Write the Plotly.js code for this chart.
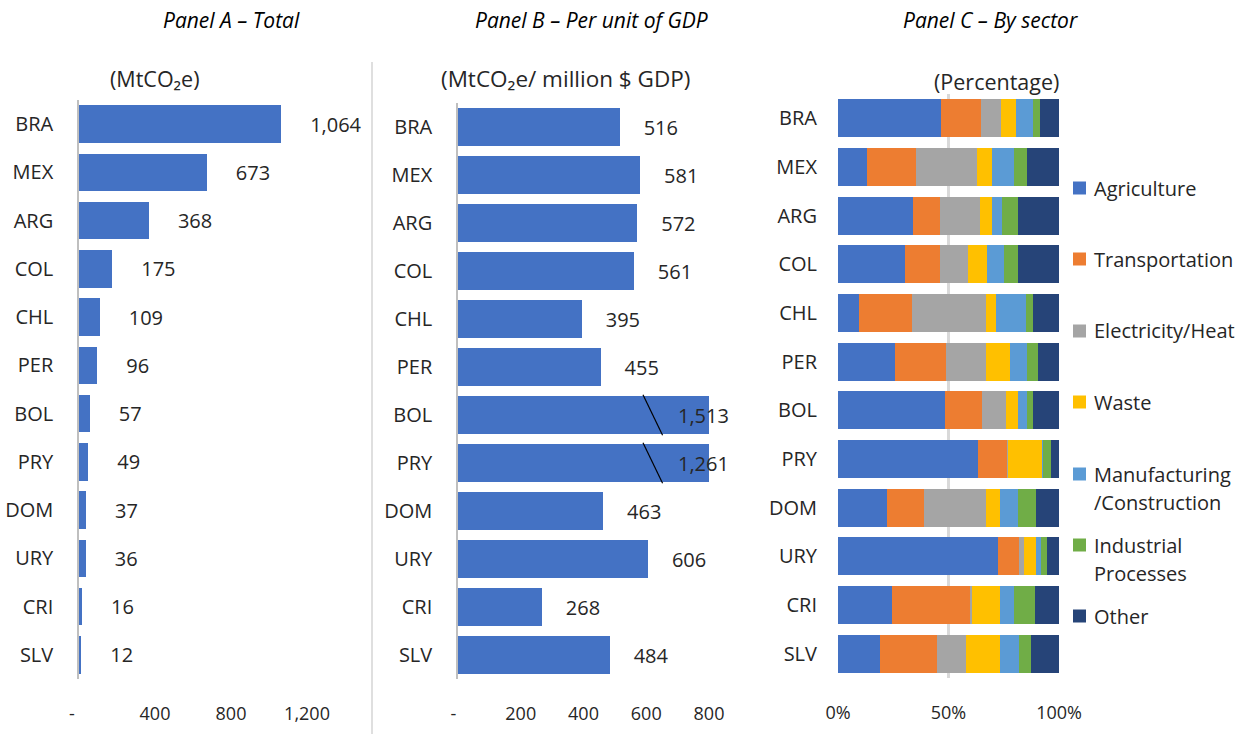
<!DOCTYPE html>
<html>
<head>
<meta charset="utf-8">
<script src="https://cdn.plot.ly/plotly-3.0.1.min.js"></script>
<style>html,body{margin:0;padding:0;background:#fff;}#chart{width:1257px;height:734px;}</style>
</head>
<body>
<div id="chart"></div>
<script>
// ---------- DATA ----------
const countries = ['BRA','MEX','ARG','COL','CHL','PER','BOL','PRY','DOM','URY','CRI','SLV'];
const totalEmissions = [1064, 673, 368, 175, 109, 96, 57, 49, 37, 36, 16, 12];           // MtCO2e
const intensity = [516, 581, 572, 561, 395, 455, 1513, 1261, 463, 606, 268, 484];        // MtCO2e / million $ GDP
const intensityAxisMax = 800;

const sectorNames = ['Agriculture','Transportation','Electricity/Heat','Waste','Manufacturing<br>/Construction','Industrial<br>Processes','Other'];
const sectorColors = ['#4472C4','#ED7D31','#A5A5A5','#FFC000','#5B9BD5','#70AD47','#264478'];
const agriculture    = [46.6, 13.0, 33.8, 30.3,  9.5, 25.6, 48.4, 63.5, 22.3, 72.7, 24.6, 18.9];
const transportation = [17.9, 22.2, 12.4, 15.8, 23.8, 23.4, 16.9, 13.3, 16.7,  9.4, 35.4, 26.1];
const electricity    = [ 9.4, 27.6, 17.9, 12.7, 33.6, 17.9, 10.9,  0.2, 27.9,  2.3,  0.6, 12.7];
const waste          = [ 6.5,  7.1,  5.7,  8.6,  4.7, 11.0,  5.3, 15.7,  6.3,  5.3, 12.7, 15.7];
const manufacturing  = [ 8.0,  9.8,  4.5,  7.7, 13.3,  7.5,  4.1,  0.3,  8.1,  2.3,  6.3,  8.7];
const industrial     = [ 2.9,  5.9,  7.1,  6.3,  3.5,  5.1,  2.9,  3.8,  8.1,  2.9,  9.4,  5.1];
const other          = [ 8.7, 14.5, 18.6, 18.6, 11.6,  9.4, 11.6,  3.5, 10.4,  5.3, 11.0, 12.8];
const sectorShares = [agriculture, transportation, electricity, waste, manufacturing, industrial, other];

const ticksA = [0, 400, 800, 1200];
const tickTextA = ['-\u00a0\u00a0\u00a0', '400', '800', '1,200'];
const ticksB = [0, 200, 400, 600, 800];
const tickTextB = ['-\u00a0\u00a0', '200', '400', '600', '800'];
const ticksC = [0, 50, 100];
const tickTextC = ['0%', '50%', '100%'];

// ---------- HELPERS ----------
const FONT = '"Open Sans", sans-serif';
const TXT = '#262626';
const fmt = v => v.toLocaleString('en-US');
const pad = n => '\u00a0'.repeat(n);
const W = 1257, H = 734;
const px = x => x / W;
const py = y => 1 - y / H;

const traces = [];
// Panel A
traces.push({
  type: 'bar', orientation: 'h', x: totalEmissions, y: countries,
  xaxis: 'x', yaxis: 'y', marker: {color: '#4472C4'},
  text: totalEmissions.map(v => pad(5) + fmt(v)), textposition: 'outside',
  textfont: {family: FONT, size: 20, color: TXT}, cliponaxis: false,
  showlegend: false, hoverinfo: 'x+y'
});
// Panel B: bars within the axis get outside labels, bars beyond the axis are capped
const capped = intensity.map(v => v > intensityAxisMax);
const inB = countries.map((c, i) => i).filter(i => !capped[i]);
const capB = countries.map((c, i) => i).filter(i => capped[i]);
traces.push({
  type: 'bar', orientation: 'h', x: inB.map(i => intensity[i]), y: inB.map(i => countries[i]),
  xaxis: 'x2', yaxis: 'y2', marker: {color: '#4472C4'},
  text: inB.map(i => pad(4) + fmt(intensity[i])), textposition: 'outside',
  textfont: {family: FONT, size: 20, color: TXT}, cliponaxis: false,
  showlegend: false, hovertemplate: '%{y}: %{x}<extra></extra>'
});
traces.push({
  type: 'bar', orientation: 'h', x: capB.map(i => intensityAxisMax), y: capB.map(i => countries[i]),
  xaxis: 'x2', yaxis: 'y2', marker: {color: '#4472C4'},
  showlegend: false, customdata: capB.map(i => intensity[i]), hovertemplate: '%{y}: %{customdata}<extra></extra>'
});
// Panel C (normalised to 100%)
const totals = countries.map((c, i) => sectorShares.reduce((s, arr) => s + arr[i], 0));
sectorShares.forEach((arr, k) => {
  traces.push({
    type: 'bar', orientation: 'h', x: arr.map((v, i) => v / totals[i] * 100), y: countries,
    xaxis: 'x3', yaxis: 'y3', name: sectorNames[k], showlegend: false,
    marker: {color: sectorColors[k], line: {width: 0}},
    hovertemplate: '%{y}: %{x:.1f}%<extra>' + sectorNames[k].replace('<br>', ' ') + '</extra>'
  });
});

const axisFont = {family: FONT, size: 20, color: TXT};
const yBase = {
  type: 'category', autorange: 'reversed', showgrid: false, zeroline: false,
  ticks: '', ticklabelstandoff: 20, tickfont: axisFont, fixedrange: true,
  categoryorder: 'array', categoryarray: countries
};
const xBase = {
  showgrid: false, zeroline: false, ticks: '', tickmode: 'array',
  tickfont: {family: FONT, size: 18, color: TXT}, ticklabelstandoff: 22, fixedrange: true, showline: false
};

const annotations = [
  {text: '<i>Panel A – Total</i>', x: px(231), y: py(20)},
  {text: '<i>Panel B – Per unit of GDP</i>', x: px(591), y: py(20)},
  {text: '<i>Panel C – By sector</i>', x: px(990), y: py(20)},
].map(a => Object.assign({xref: 'paper', yref: 'paper', showarrow: false, xanchor: 'center', yanchor: 'middle',
  font: {family: FONT, size: 21, color: '#000'}}, a));

[
  {text: '(MtCO₂e)', x: px(155), y: py(79), size: 21.5},
  {text: '(MtCO₂e/ million $ GDP)', x: px(565), y: py(78), size: 22.5},
  {text: '(Percentage)', x: px(996), y: py(81), size: 21.5},
].forEach(a => annotations.push({xref: 'paper', yref: 'paper', showarrow: false, xanchor: 'center', yanchor: 'middle',
  x: a.x, y: a.y, text: a.text, font: {family: FONT, size: a.size, color: TXT}}));

const shapes = [];
// labels and break marks for capped bars in panel B
capB.forEach(i => {
  annotations.push({xref: 'x2', yref: 'y2', x: intensityAxisMax, y: countries[i], xanchor: 'right', xshift: 22,
    showarrow: false, text: fmt(intensity[i]), font: {family: FONT, size: 20, color: TXT}});
  shapes.push({type: 'line', xref: 'x2', yref: 'y2',
    x0: intensityAxisMax * 0.737, x1: intensityAxisMax * 0.815, y0: i - 0.42, y1: i + 0.42,
    line: {color: '#000', width: 1.2}});
});
// divider between panel A and B
shapes.push({type: 'line', xref: 'paper', yref: 'paper', x0: px(372), x1: px(372), y0: 0, y1: py(62),
  line: {color: '#BFBFBF', width: 1}});

// manual legend for panel C
const legendRows = [188, 259, 331, 402, 474, 545, 616];
const lineGap = 28;
sectorNames.forEach((name, k) => {
  const yc = legendRows[k];
  shapes.push({type: 'rect', xref: 'paper', yref: 'paper', x0: px(1073), x1: px(1086), y0: py(yc + 6.5), y1: py(yc - 6.5),
    fillcolor: sectorColors[k], line: {width: 0}});
  name.split('<br>').forEach((line, j) => {
    annotations.push({xref: 'paper', yref: 'paper', x: px(1092), y: py(yc + j * lineGap), xanchor: 'left', yanchor: 'middle',
      showarrow: false, text: line, font: {family: FONT, size: 20, color: TXT}});
  });
});

const layout = {
  width: W, height: H, margin: {l: 0, r: 0, t: 0, b: 0},
  paper_bgcolor: '#fff', plot_bgcolor: 'rgba(0,0,0,0)',
  barmode: 'stack', bargap: 0.22, showlegend: false,
  font: {family: FONT, color: TXT},
  xaxis: Object.assign({}, xBase, {domain: [px(79), px(307)], range: [0, 1200], tickvals: ticksA, ticktext: tickTextA, anchor: 'y'}),
  yaxis: Object.assign({}, yBase, {domain: [py(679), py(100)], anchor: 'x', showline: true, linecolor: '#BFBFBF', linewidth: 1.5}),
  xaxis2: Object.assign({}, xBase, {domain: [px(458), px(709)], range: [0, intensityAxisMax], tickvals: ticksB, ticktext: tickTextB, anchor: 'y2'}),
  yaxis2: Object.assign({}, yBase, {domain: [py(679), py(103)], anchor: 'x2', showline: true, linecolor: '#BFBFBF', linewidth: 1.5}),
  xaxis3: Object.assign({}, xBase, {domain: [px(838), px(1059)], range: [0, 100], tickvals: ticksC, ticktext: tickTextC, anchor: 'y3',
    showgrid: true, gridcolor: '#D9D9D9', gridwidth: 2.5}),
  yaxis3: Object.assign({}, yBase, {domain: [py(678), py(94)], anchor: 'x3'}),
  annotations: annotations,
  shapes: shapes,
  hovermode: 'closest'
};

Plotly.newPlot('chart', traces, layout, {displayModeBar: false});
</script>
</body>
</html>
